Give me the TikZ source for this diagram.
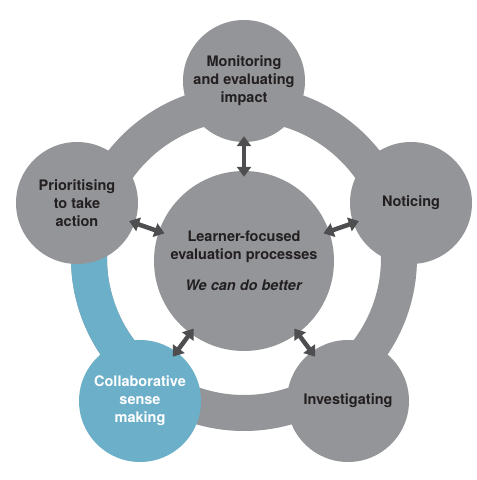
\documentclass[tikz,border=0pt]{standalone}
\usepackage{fontspec}
\setmainfont{TeX Gyre Heros}
\usetikzlibrary{arrows.meta}
\definecolor{ringgray}{RGB}{147,149,152}
\definecolor{ringblue}{RGB}{108,175,200}
\definecolor{arrowgray}{RGB}{78,78,80}
\definecolor{txt}{RGB}{35,31,32}
\begin{document}
\begin{tikzpicture}[x=1pt,y=1pt,
  stage/.style={circle, fill=ringgray, minimum size=122pt, inner sep=0pt,
    align=center, text=txt, font=\fontsize{14.5}{18}\selectfont\bfseries},
  bluestage/.style={stage, fill=ringblue, text=white},
  hub/.style={stage, minimum size=180pt},
  band/.style={line width=36pt},
  biarrow/.style={arrowgray, line width=4.5pt,
    {Triangle[width=14pt,length=10pt]}-{Triangle[width=14pt,length=10pt]},
    shorten <=-6pt, shorten >=-6pt}]
\useasboundingbox (0,0) rectangle (477,480);
\fill[white] (0,0) rectangle (477,480);
% ring
\draw[ringgray, band] (244,222) circle (155);
\draw[ringblue, band] ([shift={(162:155)}]244,222) arc (162:234:155);
% stages
\node[stage] (mon) at (244,399) {Monitoring\\and evaluating\\impact};
\node[stage] (not) at (411,277) {Noticing};
\node[stage] (inv) at (348,79) {Investigating};
\node[bluestage] (col) at (140,79) {Collaborative\\sense\\making};
\node[stage] (pri) at (77,277) {Prioritising\\to take\\action};
\node[hub] (c) at (244,219) {Learner-focused\\evaluation processes\\[13pt]\textit{We can do better}};
% arrows
\draw[biarrow] (mon) -- (c);
\draw[biarrow] (not) -- (c);
\draw[biarrow] (inv) -- (c);
\draw[biarrow] (col) -- (c);
\draw[biarrow] (pri) -- (c);
\end{tikzpicture}
\end{document}
